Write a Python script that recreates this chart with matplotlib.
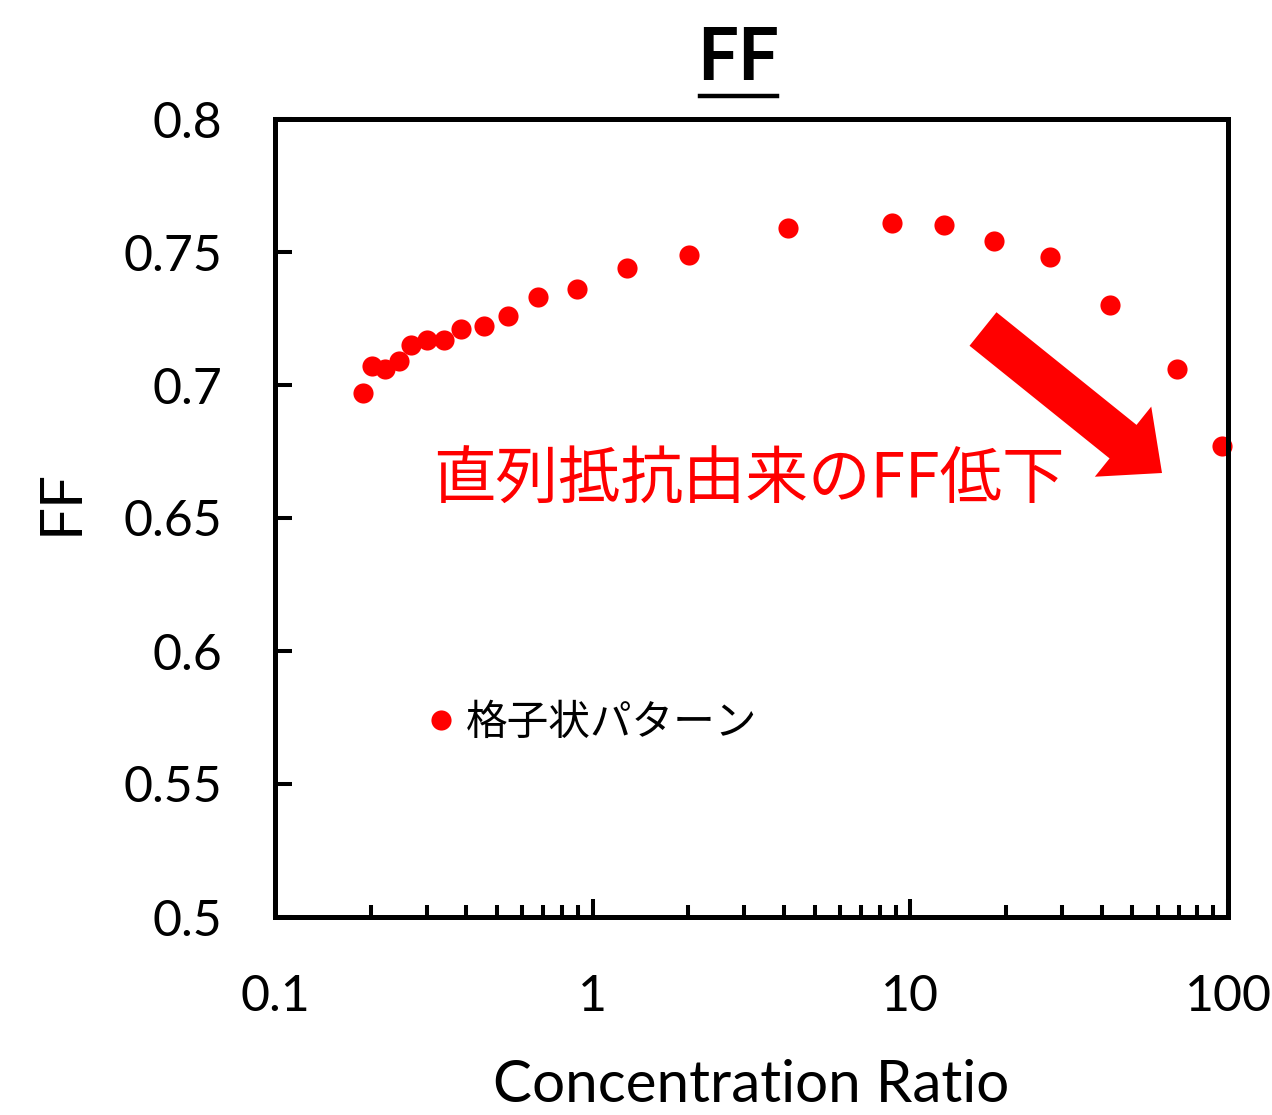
import matplotlib
matplotlib.use("Agg")
import matplotlib.pyplot as plt
from matplotlib.patches import FancyArrow
from matplotlib.lines import Line2D
from matplotlib.transforms import IdentityTransform
from matplotlib.ticker import LogLocator, NullFormatter

# ---- data ----
concentration_ratio = [0.189, 0.202, 0.222, 0.246, 0.268, 0.301, 0.340, 0.385,
                       0.455, 0.541, 0.673, 0.893, 1.28, 2.01, 4.12, 8.77,
                       12.8, 18.3, 27.6, 42.5, 69.2, 95.5]
ff_values = [0.697, 0.707, 0.706, 0.709, 0.715, 0.717, 0.717, 0.721,
             0.722, 0.726, 0.733, 0.736, 0.744, 0.749, 0.759, 0.761,
             0.760, 0.754, 0.748, 0.730, 0.706, 0.677]
series_label = "格子状パターン"
x_ticks = [0.1, 1, 10, 100]
x_tick_labels = ["0.1", "1", "10", "100"]
y_ticks = [0.5, 0.55, 0.6, 0.65, 0.7, 0.75, 0.8]
y_tick_labels = ["0.5", "0.55", "0.6", "0.65", "0.7", "0.75", "0.8"]
title_text = "FF"
x_label = "Concentration Ratio"
y_label = "FF"
annotation_text = "直列抵抗由来のFF低下"

W, H = 1272, 1115
LATIN = ["Lato", "DejaVu Sans"]
CJK = ["Noto Sans CJK JP", "DejaVu Sans"]
plt.rcParams['font.family'] = LATIN

fig = plt.figure(figsize=(W / 100, H / 100), dpi=100)
ax = fig.add_axes([275 / W, 1 - 917 / H, (1228 - 275) / W, (917 - 119) / H])

ax.plot(concentration_ratio, ff_values, linestyle="none", marker="o",
        markersize=14.5, color="#ff0000", markeredgewidth=0, clip_on=False,
        label=series_label)

ax.set_xscale("log")
ax.set_xlim(0.1, 100)
ax.set_ylim(0.5, 0.8)
ax.set_xticks(x_ticks, x_tick_labels)
ax.set_yticks(y_ticks, y_tick_labels)
ax.xaxis.set_minor_locator(LogLocator(base=10, subs=range(2, 10)))
ax.xaxis.set_minor_formatter(NullFormatter())

for s in ax.spines.values():
    s.set_linewidth(3.6)
ax.tick_params(axis="x", which="major", direction="in", length=13, width=2.9,
               labelsize=36, pad=41, top=False)
ax.tick_params(axis="x", which="minor", direction="in", length=8.5, width=2.9,
               top=False)
ax.tick_params(axis="y", which="major", direction="in", length=12, width=2.9,
               labelsize=36, pad=38, right=False)

ax.set_xlabel(x_label, fontsize=42, labelpad=28)
ax.set_ylabel(y_label, fontsize=42)
ax.yaxis.set_label_coords(-0.197, 0.52)

# title with underline
fig.text(738 / W, 1 - 59 / H, title_text, fontsize=52, fontweight="bold",
         ha="center", va="center")
fig.add_artist(Line2D([700 / W, 777 / W], [1 - 96 / H, 1 - 96 / H],
                      transform=fig.transFigure, color="black", linewidth=3.2))

# legend
ax.legend(loc="center left", bbox_to_anchor=(420 / W, 1 - 723 / H),
          bbox_transform=fig.transFigure, frameon=False, borderpad=0,
          borderaxespad=0, handlelength=1.0, handletextpad=0.1,
          prop={"family": CJK, "size": 30})

# annotation text and arrow
fig.text(433 / W, 1 - 481 / H, annotation_text, fontsize=45, color="#ff0000",
         ha="left", va="center", family=CJK)
arrow = FancyArrow(983, H - 329, 179, -144, width=43, head_width=90,
                   head_length=50, length_includes_head=True,
                   color="#ff0000", linewidth=0, transform=IdentityTransform())
fig.add_artist(arrow)

fig.savefig("out.png", dpi=100)
